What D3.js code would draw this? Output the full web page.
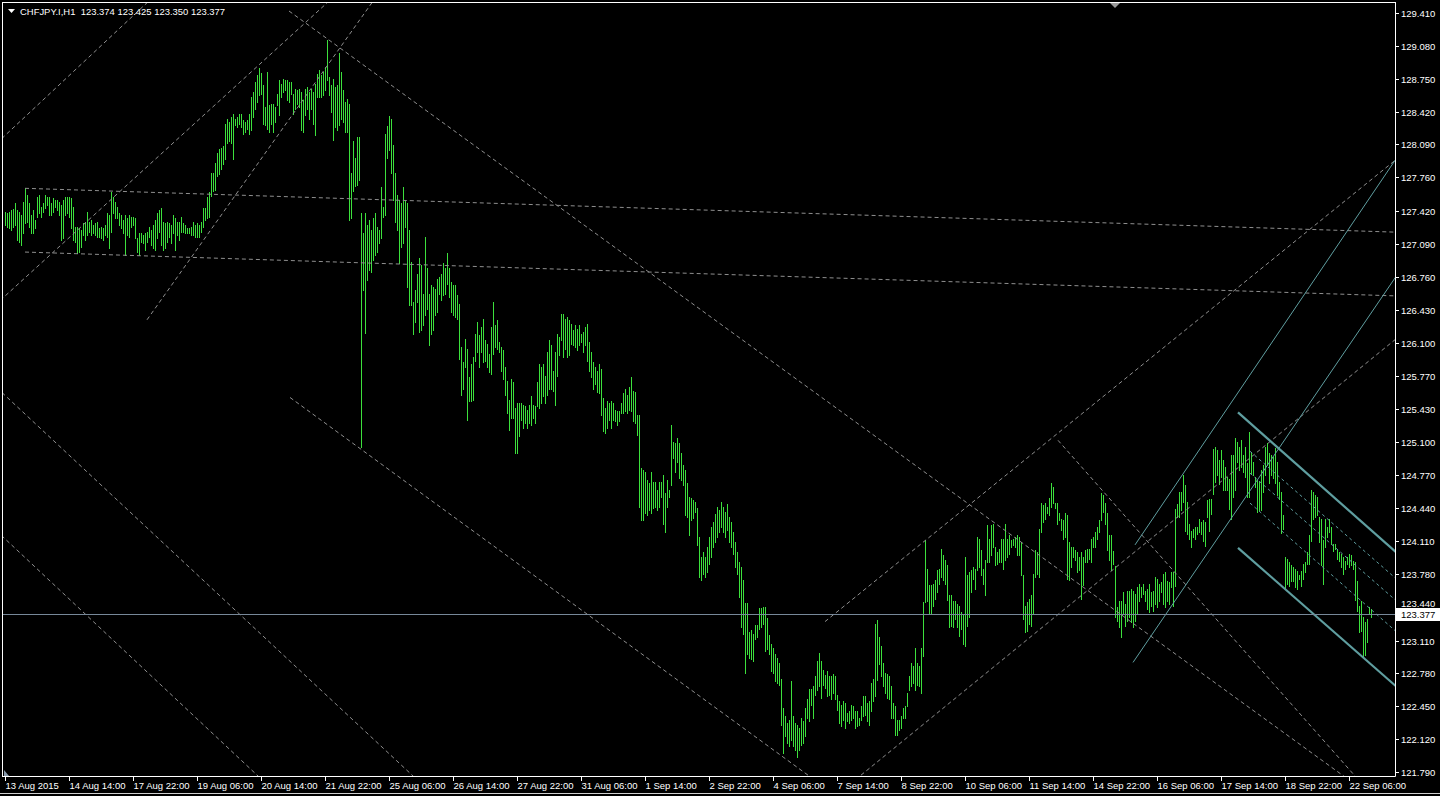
<!DOCTYPE html>
<html><head><meta charset="utf-8">
<script src="https://cdn.jsdelivr.net/npm/d3@7/dist/d3.min.js"></script>
<style>html,body{margin:0;padding:0;background:#000;overflow:hidden}svg{display:block}</style>
</head><body><svg id="c" width="1440" height="796"></svg>
<script>
// ---------- DATA ----------
const symbolTitle = "CHFJPY.I,H1";
const lastQuote = ["123.374","123.425","123.350","123.377"];
const bidPrice = 123.377;

const highs = [
127.41,127.40,127.41,127.43,127.44,127.50,127.43,127.41,127.38,127.51,
127.65,127.58,127.50,127.38,127.43,127.33,127.56,127.58,127.46,127.50,
127.58,127.56,127.56,127.50,127.55,127.53,127.53,127.51,127.48,127.53,
127.56,127.56,127.56,127.55,127.46,127.26,127.26,127.25,127.23,127.30,
127.31,127.41,127.31,127.33,127.28,127.30,127.31,127.25,127.26,127.25,
127.28,127.40,127.38,127.61,127.56,127.51,127.46,127.40,127.38,127.33,
127.38,127.35,127.38,127.36,127.36,127.35,127.15,127.20,127.20,127.18,
127.20,127.21,127.26,127.23,127.28,127.33,127.40,127.43,127.45,127.31,
127.30,127.31,127.30,127.28,127.38,127.35,127.31,127.31,127.36,127.30,
127.28,127.25,127.25,127.26,127.31,127.28,127.30,127.28,127.31,127.45,
127.45,127.56,127.61,127.80,127.80,127.90,128.00,128.04,128.05,128.07,
128.30,128.35,128.32,128.37,128.40,128.35,128.37,128.40,128.40,128.34,
128.32,128.34,128.40,128.57,128.62,128.72,128.79,128.86,128.81,128.69,
128.47,128.82,128.49,128.50,128.50,128.47,128.60,128.74,128.70,128.75,
128.74,128.74,128.72,128.72,128.60,128.65,128.64,128.65,128.62,128.54,
128.65,128.67,128.62,128.65,128.62,128.70,128.80,128.84,128.79,128.82,
128.87,129.14,128.77,128.69,128.75,128.67,128.69,129.01,128.82,128.64,
128.52,128.55,128.50,127.80,128.12,127.95,128.17,128.17,127.40,127.20,
127.40,127.28,127.33,127.23,127.35,127.40,127.26,127.23,127.66,127.46,
128.20,128.28,128.38,128.35,128.08,127.80,127.58,127.53,127.50,127.66,
127.53,127.50,127.23,126.91,126.51,126.63,126.79,126.95,126.88,126.59,
127.16,126.85,126.59,126.68,126.66,126.64,126.74,126.76,126.79,126.90,
126.85,127.00,126.85,126.71,126.68,126.68,126.58,126.49,126.06,125.91,
126.14,126.04,125.76,125.89,125.96,126.19,126.31,126.18,126.26,126.34,
126.13,126.09,125.99,126.26,126.51,126.28,126.33,126.11,126.06,126.03,
125.86,125.72,125.52,125.74,125.71,125.44,125.49,125.49,125.49,125.47,
125.46,125.42,125.47,125.56,125.47,125.46,125.71,125.89,125.86,125.89,
125.77,126.01,126.13,126.08,125.82,126.01,126.19,126.16,126.39,126.39,
126.34,126.36,126.33,126.29,126.23,126.28,126.24,126.28,126.19,126.21,
126.26,126.29,126.11,126.01,125.91,125.86,125.82,125.89,125.84,125.54,
125.44,125.51,125.49,125.51,125.49,125.42,125.41,125.41,125.49,125.59,
125.64,125.57,125.66,125.76,125.62,125.61,125.37,125.37,124.84,124.82,
124.80,124.72,124.69,124.80,124.70,124.70,124.62,124.70,124.70,124.77,
124.59,124.72,124.62,125.27,125.10,125.09,125.14,125.09,124.99,124.87,
124.82,124.69,124.55,124.54,124.52,124.50,124.44,124.15,123.95,124.00,
123.95,124.05,124.15,124.25,124.30,124.38,124.45,124.42,124.50,124.45,
124.40,124.48,124.35,124.30,124.20,124.10,124.00,123.90,123.85,123.72,
123.49,123.49,123.20,123.22,123.18,123.27,123.27,123.44,123.44,123.45,
123.45,123.34,123.17,123.08,123.03,122.97,122.93,122.88,122.72,122.43,
122.35,122.28,122.31,122.70,122.35,122.28,122.26,122.23,122.33,122.30,
122.43,122.52,122.62,122.62,122.65,122.75,122.90,122.98,122.90,122.81,
122.76,122.80,122.75,122.75,122.77,122.75,122.56,122.50,122.46,122.50,
122.48,122.38,122.40,122.46,122.45,122.40,122.40,122.33,122.45,122.55,
122.55,122.48,122.50,122.68,122.72,123.28,123.32,123.15,123.05,122.88,
122.78,122.77,122.75,122.65,122.48,122.45,122.31,122.31,122.35,122.43,
122.45,122.58,122.75,122.88,122.85,123.03,122.88,122.85,123.03,123.50,
124.12,123.83,123.67,123.67,123.68,123.72,123.82,123.83,124.03,123.97,
123.92,123.87,123.57,123.57,123.51,123.51,123.48,123.46,123.40,123.38,
123.95,123.77,123.80,123.82,123.85,123.83,124.15,124.13,124.02,123.83,
123.92,124.27,124.13,124.27,124.28,124.05,124.00,124.03,124.13,124.13,
124.28,124.13,124.17,124.12,124.13,124.15,124.17,124.15,124.10,123.77,
123.46,123.50,123.53,123.57,123.78,124.02,124.00,124.23,124.49,124.47,
124.49,124.45,124.54,124.69,124.65,124.49,124.49,124.39,124.33,124.32,
124.39,124.37,124.10,124.05,124.05,124.02,124.00,123.95,124.00,123.95,
124.02,124.03,124.03,124.13,124.15,124.20,124.25,124.32,124.59,124.57,
124.49,124.39,124.17,124.17,124.01,123.86,123.45,123.51,123.51,123.60,
123.48,123.61,123.61,123.63,123.61,123.58,123.65,123.68,123.65,123.68,
123.61,123.63,123.68,123.60,123.61,123.75,123.73,123.68,123.70,123.78,
123.80,123.71,123.70,123.80,123.80,124.43,124.48,124.60,124.60,124.77,
124.67,124.50,124.28,124.21,124.23,124.25,124.25,124.33,124.30,124.32,
124.30,124.52,124.53,124.53,125.03,125.05,125.02,124.92,125.02,124.92,
124.85,124.75,124.73,124.97,124.97,125.14,125.10,125.05,125.12,124.97,
125.05,124.89,125.20,125.00,124.90,124.75,124.72,124.70,124.82,124.87,
125.05,125.09,124.99,124.97,124.95,125.04,124.90,124.70,124.60,124.37,
123.95,123.93,123.90,123.87,123.85,123.83,123.81,123.77,123.81,123.88,
123.90,124.00,124.17,124.62,124.60,124.57,124.55,124.35,124.33,124.12,
124.33,124.25,124.33,124.25,124.08,124.08,124.03,124.00,123.98,123.95,
123.91,123.95,123.98,123.97,123.91,123.90,123.71,123.46,123.51,123.35,
123.30,123.33,123.45,123.43];

const lows = [
127.28,127.26,127.25,127.23,127.26,127.28,127.13,127.11,127.08,127.20,
127.30,127.31,127.26,127.20,127.20,127.25,127.36,127.40,127.36,127.41,
127.45,127.48,127.38,127.38,127.41,127.46,127.43,127.38,127.13,127.15,
127.38,127.40,127.36,127.25,127.13,127.11,127.00,127.01,127.06,127.18,
127.13,127.18,127.21,127.18,127.20,127.18,127.16,127.16,127.15,127.13,
127.18,127.16,127.05,127.21,127.40,127.35,127.35,127.28,127.25,127.20,
126.98,127.18,127.16,127.26,127.28,127.15,127.01,126.98,127.11,127.10,
127.03,127.11,127.16,127.08,127.05,127.03,127.15,127.21,127.08,127.03,
127.05,127.11,127.16,127.10,127.20,127.03,127.18,127.13,127.21,127.21,
127.20,127.20,127.20,127.18,127.18,127.16,127.16,127.16,127.21,127.26,
127.33,127.35,127.36,127.57,127.62,127.63,127.77,127.79,127.84,127.89,
127.94,128.10,128.12,128.10,127.94,128.29,128.27,128.30,128.27,128.20,
128.22,128.25,128.20,128.24,128.37,128.45,128.52,128.59,128.60,128.30,
128.29,128.25,128.22,128.30,128.22,128.32,128.49,128.39,128.57,128.62,
128.64,128.54,128.52,128.60,128.40,128.45,128.50,128.47,128.24,128.22,
128.39,128.45,128.35,128.45,128.30,128.19,128.57,128.57,128.57,128.59,
128.64,128.74,128.59,128.42,128.14,128.27,128.24,128.29,128.35,128.32,
128.22,128.22,127.33,127.35,127.62,127.67,127.68,127.73,125.05,126.63,
126.20,126.73,126.83,126.81,126.93,126.98,127.01,127.10,127.15,127.36,
127.38,127.95,128.03,127.80,127.53,127.31,127.23,126.90,127.06,127.10,
127.26,126.66,126.48,126.48,126.19,126.31,126.51,126.21,126.23,126.28,
126.38,126.44,126.08,126.19,126.23,126.38,126.41,126.59,126.53,126.58,
126.59,126.69,126.56,126.41,126.38,126.36,126.34,125.94,125.57,125.64,
125.86,125.32,125.51,125.51,125.52,125.92,126.01,125.86,126.01,125.91,
125.92,125.86,125.81,125.79,125.99,126.06,126.04,126.01,125.82,125.74,
125.57,125.39,125.22,125.34,125.34,124.99,124.99,125.16,125.32,125.24,
125.29,125.24,125.29,125.27,125.34,125.29,125.46,125.44,125.49,125.56,
125.49,125.57,125.64,125.64,125.62,125.47,125.77,125.98,126.13,125.96,
126.04,125.96,125.98,126.09,126.08,126.06,126.03,126.08,126.11,126.01,
126.08,125.92,125.82,125.76,125.64,125.69,125.61,125.59,125.37,125.21,
125.19,125.24,125.32,125.24,125.32,125.31,125.27,125.31,125.39,125.39,
125.41,125.39,125.42,125.41,125.31,125.29,125.17,124.45,124.32,124.32,
124.39,124.37,124.42,124.39,124.44,124.45,124.42,124.45,124.55,124.28,
124.20,124.45,124.55,124.67,124.94,124.80,124.90,124.74,124.72,124.67,
124.37,124.35,124.17,124.32,124.34,124.40,124.07,123.75,123.72,123.78,
123.75,123.80,123.88,123.95,124.05,124.10,124.15,124.20,124.25,124.20,
124.15,124.22,124.10,124.05,123.98,123.85,123.78,123.55,123.25,123.18,
122.78,122.97,122.93,122.92,122.90,123.13,123.15,123.23,123.25,123.28,
123.00,123.02,122.97,122.80,122.78,122.70,122.68,122.66,122.26,121.98,
122.15,122.08,122.05,122.11,122.05,122.01,121.94,122.01,122.06,122.08,
122.15,122.33,122.30,122.46,122.33,122.56,122.61,122.65,122.53,122.66,
122.63,122.55,122.56,122.52,122.58,122.52,122.41,122.28,122.25,122.31,
122.23,122.30,122.28,122.31,122.33,122.23,122.25,122.26,122.31,122.35,
122.36,122.30,122.26,122.40,122.50,122.55,122.71,122.87,122.75,122.65,
122.58,122.53,122.52,122.33,122.33,122.16,122.16,122.21,122.23,122.33,
122.33,122.45,122.61,122.65,122.68,122.61,122.66,122.65,122.58,122.95,
123.50,123.51,123.38,123.38,123.46,123.53,123.60,123.68,123.75,123.72,
123.68,123.52,123.25,123.26,123.25,123.33,123.25,123.16,123.23,123.08,
123.05,123.26,123.35,123.60,123.73,123.63,123.82,123.85,123.77,123.68,
123.57,123.90,123.90,123.97,124.05,123.87,123.88,123.90,123.90,123.83,
123.92,123.95,123.98,124.05,124.07,124.05,123.97,123.97,123.77,123.33,
123.20,123.21,123.28,123.26,123.38,123.75,123.78,123.75,124.20,124.30,
124.33,124.39,124.37,124.45,124.49,124.44,124.28,124.32,124.22,124.13,
124.15,123.73,123.72,123.85,123.95,123.92,123.80,123.82,123.53,123.67,
123.90,123.90,123.93,123.90,124.05,124.05,124.13,124.20,124.32,124.40,
124.28,124.02,123.92,123.82,123.88,123.35,123.31,123.25,123.15,123.38,
123.26,123.31,123.35,123.30,123.25,123.31,123.38,123.51,123.55,123.58,
123.51,123.43,123.40,123.46,123.41,123.48,123.45,123.51,123.60,123.48,
123.45,123.51,123.48,123.65,123.46,123.66,124.35,124.35,124.42,124.50,
124.21,124.18,124.13,124.05,124.15,124.13,124.18,124.20,124.18,124.11,
124.06,124.35,124.21,124.38,124.58,124.70,124.77,124.68,124.75,124.62,
124.62,124.62,124.43,124.33,124.55,124.62,124.90,124.82,124.85,124.80,
124.75,124.55,124.55,124.79,124.77,124.65,124.40,124.42,124.42,124.60,
124.77,124.87,124.69,124.77,124.74,124.69,124.57,124.53,124.19,124.23,
123.63,123.68,123.66,123.71,123.71,123.65,123.63,123.73,123.66,123.73,
123.80,123.88,123.88,124.11,124.33,124.35,124.37,124.10,123.87,123.68,
124.05,124.15,124.20,124.08,124.01,124.03,123.93,123.91,123.85,123.78,
123.83,123.88,123.85,123.87,123.83,123.52,123.41,123.20,123.21,122.95,
122.96,123.10,123.38,123.35];

const priceTicks = ["129.410","129.080","128.750","128.420","128.090","127.760","127.420","127.090",
  "126.760","126.430","126.100","125.770","125.430","125.100","124.770","124.440","124.110",
  "123.780","123.440","123.110","122.780","122.450","122.120","121.790"];

const timeLabels = ["13 Aug 2015","14 Aug 14:00","17 Aug 22:00","19 Aug 06:00","20 Aug 14:00",
  "21 Aug 22:00","25 Aug 06:00","26 Aug 14:00","27 Aug 22:00","31 Aug 06:00","1 Sep 14:00",
  "2 Sep 22:00","4 Sep 06:00","7 Sep 14:00","8 Sep 22:00","10 Sep 06:00","11 Sep 14:00",
  "14 Sep 22:00","16 Sep 06:00","17 Sep 14:00","18 Sep 22:00","22 Sep 06:00"];
const timeLabelBars = [0,32,64,96,128,160,192,224,256,288,320,352,384,416,448,480,512,544,576,608,640,672];

// trend lines: [bar1, price1, bar2, price2, rayRight, rayLeft]
const grayDashedLines = [
  [0,128.18, 65,129.40, 1,1],
  [-1,126.55, 132.5,128.99, 1,1],
  [71,126.33, 162.5,128.92, 1,0],
  [10,127.65, 695,127.21, 1,0],
  [10,127.01, 695,126.57, 1,0],
  [142,129.43, 458.5,124.82, 1,0],
  [142.5,125.55, 392.5,121.89, 1,0],
  [-1,125.59, 204,121.75, 1,1],
  [-1,124.15, 126.5,121.75, 1,1],
  [410,123.30, 695,127.93, 1,0],
  [427.5,121.75, 695,126.13, 1,1],
  [526.5,125.12, 675,121.75, 1,0]
];
const cyanSolidLines = [
  [565,124.07, 695,127.93, 1,0],
  [564,122.89, 695,126.75, 1,0]
];
const cyanThickLines = [
  [616.5,125.40, 692.5,124.05, 1,0],
  [616.5,124.04, 695,122.66, 1,0]
];
const cyanDashedLines = [
  [622.5,125.01, 695,123.74, 1,0],
  [622.5,124.79, 695,123.52, 1,0],
  [622.5,124.49, 695,123.21, 1,0]
];

// ---------- DRAW ----------
const W = 1440, H = 796;
const plotL = 3, plotT = 3, plotR = 1395, plotB = 776;
const svg = d3.select("#c");
svg.append("rect").attr("width", W).attr("height", H).attr("fill", "#000");

const x = d3.scaleLinear().domain([0, 695]).range([5, 1395]);
const y = d3.scaleLinear().domain([121.79, 129.41]).range([772, 13]);

const defs = svg.append("defs");
defs.append("clipPath").attr("id", "clip").append("rect")
  .attr("x", plotL).attr("y", plotT).attr("width", plotR - plotL).attr("height", plotB - plotT);
const plot = svg.append("g").attr("clip-path", "url(#clip)");

const FONT = "'Liberation Sans', Arial, sans-serif";

function lineSeg(d) {
  const X1 = x(d[0]), Y1 = y(d[1]), X2 = x(d[2]), Y2 = y(d[3]);
  const s = (Y2 - Y1) / (X2 - X1);
  const xa = d[5] ? -300 : X1, xb = d[4] ? 1800 : X2;
  return [xa, Y1 + s * (xa - X1), xb, Y1 + s * (xb - X1)];
}
function drawLines(arr, color, width, dash) {
  plot.append("g").selectAll("line").data(arr).join("line")
    .each(function (d) {
      const s = lineSeg(d);
      d3.select(this).attr("x1", s[0]).attr("y1", s[1]).attr("x2", s[2]).attr("y2", s[3]);
    })
    .attr("stroke", color).attr("stroke-width", width)
    .attr("stroke-dasharray", dash).attr("fill", "none");
}

// bars
const idx = d3.range(highs.length);
plot.append("g").selectAll("rect").data(idx).join("rect")
  .attr("x", i => Math.round(x(i)))
  .attr("y", i => Math.round(y(highs[i])))
  .attr("width", 1)
  .attr("height", i => Math.max(1, Math.round(y(lows[i])) - Math.round(y(highs[i])) + 1))
  .attr("fill", "#3ce03c");

drawLines(grayDashedLines, "#8f8f8f", 1, "4,3");
drawLines(cyanSolidLines, "#5f9ea0", 1, null);
drawLines(cyanDashedLines, "#5f9ea0", 1, "3,3");
drawLines(cyanThickLines, "#5f9ea0", 2.2, null);

// bid line
plot.append("line").attr("x1", plotL).attr("x2", plotR)
  .attr("y1", Math.round(y(bidPrice)) + 0.5).attr("y2", Math.round(y(bidPrice)) + 0.5)
  .attr("stroke", "#778899").attr("stroke-width", 1);

// frame
svg.append("line").attr("x1", 2.5).attr("x2", 2.5).attr("y1", 2).attr("y2", plotB + 0.5).attr("stroke", "#fff");
svg.append("line").attr("x1", 2).attr("x2", plotR + 0.5).attr("y1", 2.5).attr("y2", 2.5).attr("stroke", "#fff");
svg.append("line").attr("x1", plotR + 0.5).attr("x2", plotR + 0.5).attr("y1", 2).attr("y2", plotB + 0.5).attr("stroke", "#fff");
svg.append("line").attr("x1", 2).attr("x2", plotR + 0.5).attr("y1", plotB + 0.5).attr("y2", plotB + 0.5).attr("stroke", "#fff");
svg.append("line").attr("x1", 0).attr("x2", W).attr("y1", 793.5).attr("y2", 793.5).attr("stroke", "#d0d0d0");

// price axis
const by = Math.round(y(bidPrice));
const pa = svg.append("g");
priceTicks.forEach(t => {
  const yy = Math.round(y(+t)) + 0.5;
  const near = Math.abs(yy - by) < 12;
  pa.append("line").attr("x1", plotR).attr("x2", plotR + 4).attr("y1", yy).attr("y2", yy).attr("stroke", "#fff");
  pa.append("text").attr("x", plotR + 6).attr("y", near ? by - 7 : yy + 3.5).text(t)
    .attr("fill", "#fff").attr("font-family", FONT).attr("font-size", "9.5px");
});
// bid label
pa.append("rect").attr("x", plotR + 1).attr("y", by - 6).attr("width", 44).attr("height", 13).attr("fill", "#fff");
pa.append("text").attr("x", plotR + 6).attr("y", by + 4).text(bidPrice.toFixed(3))
  .attr("fill", "#000").attr("font-family", FONT).attr("font-size", "9.5px");

// time axis
const ta = svg.append("g");
timeLabels.forEach((t, k) => {
  const xx = Math.round(x(timeLabelBars[k])) + 0.5;
  ta.append("line").attr("x1", xx).attr("x2", xx).attr("y1", plotB).attr("y2", plotB + 5).attr("stroke", "#fff");
  ta.append("text").attr("x", xx).attr("y", plotB + 13).text(t)
    .attr("fill", "#fff").attr("font-family", FONT).attr("font-size", "9.5px");
});

// title
svg.append("path").attr("d", "M8,9 L15,9 L11.5,13 Z").attr("fill", "#fff");
svg.append("text").attr("x", 20).attr("y", 15)
  .text(symbolTitle + "\u00a0\u00a0" + lastQuote.join(" "))
  .attr("textLength", 205).attr("lengthAdjust", "spacingAndGlyphs")
  .attr("fill", "#fff").attr("font-family", FONT).attr("font-size", "9.5px");

// shift marker & small corner marker
svg.append("path").attr("d", "M1110,3 L1120,3 L1115,8 Z").attr("fill", "#9a9a9a");
svg.append("path").attr("d", "M4,770 L4,776 L9,776 Z").attr("fill", "#8899aa");
</script>
</body></html>
